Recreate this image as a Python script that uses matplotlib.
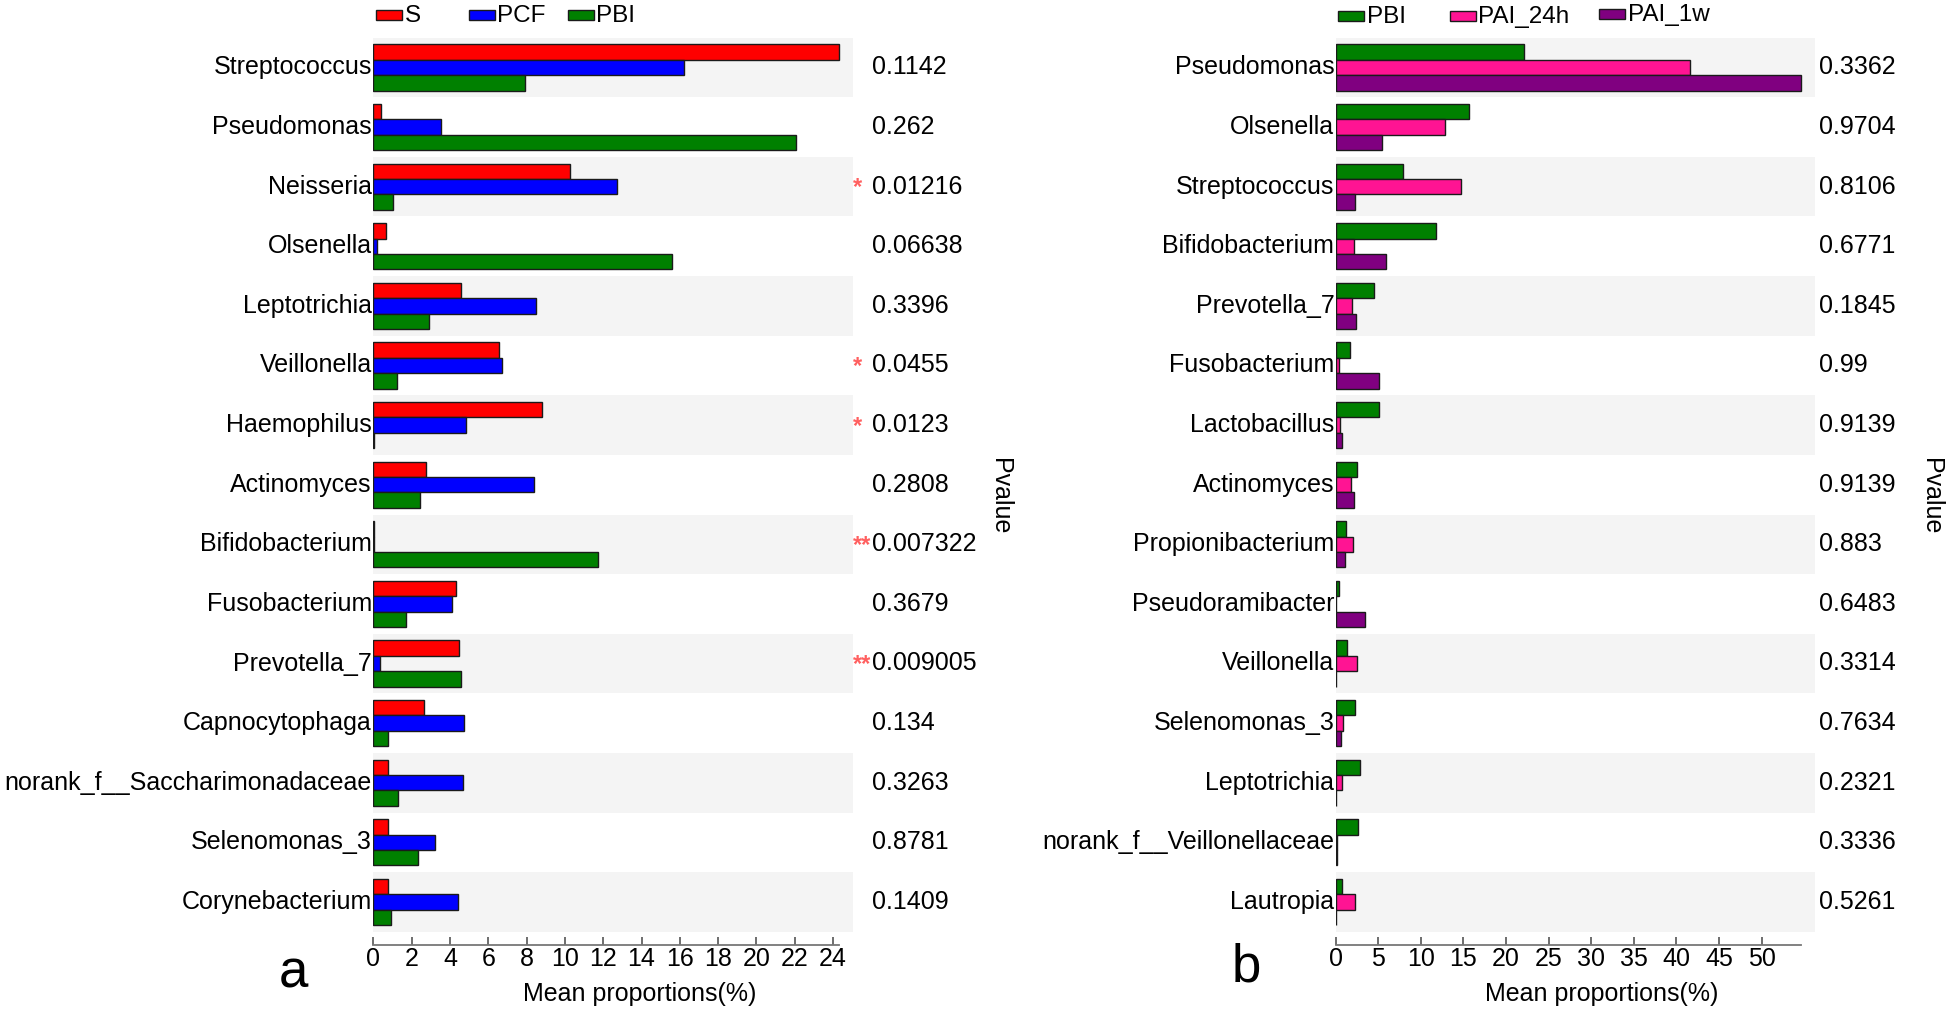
import numpy as np
import matplotlib
matplotlib.use("Agg")
import matplotlib.pyplot as plt
from matplotlib.patches import Rectangle

plt.rcParams['font.family'] = ['Liberation Sans', 'DejaVu Sans']

# ---------------- data: panel a ----------------
cats_a = ["Streptococcus", "Pseudomonas", "Neisseria", "Olsenella", "Leptotrichia",
          "Veillonella", "Haemophilus", "Actinomyces", "Bifidobacterium", "Fusobacterium",
          "Prevotella_7", "Capnocytophaga", "norank_f__Saccharimonadaceae",
          "Selenomonas_3", "Corynebacterium"]
S_vals = [24.29, 0.39, 10.26, 0.68, 4.59, 6.55, 8.82, 2.77, 0.03, 4.33, 4.49, 2.64, 0.75, 0.78, 0.78]
PCF_vals = [16.2, 3.52, 12.73, 0.2, 8.47, 6.74, 4.82, 8.37, 0.03, 4.10, 0.33, 4.75, 4.66, 3.22, 4.40]
PBI_a_vals = [7.9, 22.08, 1.01, 15.6, 2.9, 1.24, 0.05, 2.44, 11.72, 1.73, 4.56, 0.78, 1.27, 2.31, 0.91]
pvals_a = ["0.1142", "0.262", "0.01216", "0.06638", "0.3396", "0.0455", "0.0123", "0.2808",
           "0.007322", "0.3679", "0.009005", "0.134", "0.3263", "0.8781", "0.1409"]
stars_a = ["", "", "*", "", "", "*", "*", "", "**", "", "**", "", "", "", ""]
series_a = ["S", "PCF", "PBI"]
ticks_a = list(range(0, 25, 2))

# ---------------- data: panel b ----------------
cats_b = ["Pseudomonas", "Olsenella", "Streptococcus", "Bifidobacterium", "Prevotella_7",
          "Fusobacterium", "Lactobacillus", "Actinomyces", "Propionibacterium",
          "Pseudoramibacter", "Veillonella", "Selenomonas_3", "Leptotrichia",
          "norank_f__Veillonellaceae", "Lautropia"]
PBI_b_vals = [22.1, 15.6, 7.9, 11.8, 4.55, 1.73, 5.13, 2.46, 1.23, 0.43, 1.3, 2.31, 2.89, 2.6, 0.72]
PAI24_vals = [41.6, 12.8, 14.7, 2.1, 1.95, 0.36, 0.5, 1.8, 2.02, 0.05, 2.53, 0.87, 0.79, 0.2, 2.24]
PAI1w_vals = [54.6, 5.4, 2.3, 5.85, 2.4, 5.13, 0.72, 2.17, 1.08, 3.47, 0.05, 0.65, 0.05, 0.15, 0.03]
pvals_b = ["0.3362", "0.9704", "0.8106", "0.6771", "0.1845", "0.99", "0.9139", "0.9139",
           "0.883", "0.6483", "0.3314", "0.7634", "0.2321", "0.3336", "0.5261"]
series_b = ["PBI", "PAI_24h", "PAI_1w"]
ticks_b = list(range(0, 51, 5))

# ---------------- styling ----------------
W, H = 1946, 1009
fig = plt.figure(figsize=(W / 100, H / 100), dpi=100)

RED, BLUE, GREEN, PINK, PURPLE = "#FF0000", "#0000FF", "#008000", "#FF1493", "#800080"
BAND = "#F4F4F4"
EDGE = "#1a1a1a"
STAR = "#FF6060"
FS = 18


def px_axes(left, top, width, height):
    return fig.add_axes([left / W, 1 - (top + height) / H, width / W, height / H])


def panel(ax, cats, series_vals, colors, ticks, pvals, stars, pval_x, plabel_x):
    n = len(cats)
    y = np.arange(n)
    h = 0.2577
    vmax = max(max(v) for v in series_vals)
    for i in range(n):
        if i % 2 == 0:
            ax.axhspan(i - 0.5, i + 0.5, color=BAND, lw=0, zorder=0)
    for j, (vals, c) in enumerate(zip(series_vals, colors)):
        ax.barh(y + (j - 1) * h, vals, height=h, color=c, edgecolor=EDGE,
                linewidth=1.0, zorder=2)
    ax.set_xlim(0, vmax * 1.03)
    ax.set_ylim(n - 0.5, -0.5)
    ax.set_yticks(y)
    ax.set_yticklabels(cats, va='center')
    ax.tick_params(axis='y', length=0, pad=1, labelsize=FS)
    ax.set_xticks(ticks)
    ax.set_xticklabels([str(t) for t in ticks])
    ax.tick_params(axis='x', direction='in', length=6, width=1.2, color='#555555',
                   pad=1.5, labelsize=FS)
    for s in ['left', 'top', 'right']:
        ax.spines[s].set_visible(False)
    ax.spines['bottom'].set_position(('outward', 9.6))
    ax.spines['bottom'].set_bounds(0, vmax)
    ax.spines['bottom'].set_color('#777777')
    ax.spines['bottom'].set_linewidth(1.3)
    ax.set_facecolor('none')
    ax.set_xlabel("Mean proportions(%)", fontsize=FS)
    ax.xaxis.set_label_coords(0.555, -0.056)
    tr = ax.get_yaxis_transform()
    for i in range(n):
        ax.text(pval_x, i, pvals[i], transform=tr, fontsize=FS, ha='left', va='center',
                clip_on=False)
        if stars is not None and stars[i]:
            ax.text(1.0005, i + 0.02, stars[i], transform=tr, fontsize=17, color=STAR,
                    fontweight='bold', ha='left', va='center', clip_on=False)
    ax.text(plabel_x, 0.487, "Pvalue", transform=ax.transAxes, rotation=-90,
            fontsize=FS, ha='center', va='center')


ax_a = px_axes(373.3, 37.7, 479.3, 894.0)
panel(ax_a, cats_a, [S_vals, PCF_vals, PBI_a_vals], [RED, BLUE, GREEN], ticks_a,
      pvals_a, stars_a, 1.0405, 1.3075)

ax_b = px_axes(1335.7, 37.7, 479.1, 894.0)
panel(ax_b, cats_b, [PBI_b_vals, PAI24_vals, PAI1w_vals], [GREEN, PINK, PURPLE], ticks_b,
      pvals_b, None, 1.0088, 1.2425)


# ---------------- legends (manual, figure pixels) ----------------
def legend_item(x, ycen, color, label):
    fig.add_artist(Rectangle((x / W, 1 - (ycen + 5) / H), 25.5 / W, 10 / H,
                             transform=fig.transFigure, facecolor=color,
                             edgecolor=EDGE, linewidth=1.0))
    fig.text((x + 28.5) / W, 1 - (ycen + 1) / H, label, fontsize=17.5,
             ha='left', va='center')


for x, yc, c, lab in [(376, 15, RED, series_a[0]), (469, 15, BLUE, series_a[1]),
                      (568, 15, GREEN, series_a[2])]:
    legend_item(x, yc, c, lab)
for x, yc, c, lab in [(1338.3, 16, GREEN, series_b[0]), (1450, 16, PINK, series_b[1]),
                      (1599.3, 14, PURPLE, series_b[2])]:
    legend_item(x, yc, c, lab)

# panel letters
fig.text(293 / W, 1 - 987 / H, "a", fontsize=38, ha='center', va='baseline')
fig.text(1246 / W, 1 - 982 / H, "b", fontsize=38, ha='center', va='baseline')

fig.savefig("out.png", dpi=100, facecolor='white')
